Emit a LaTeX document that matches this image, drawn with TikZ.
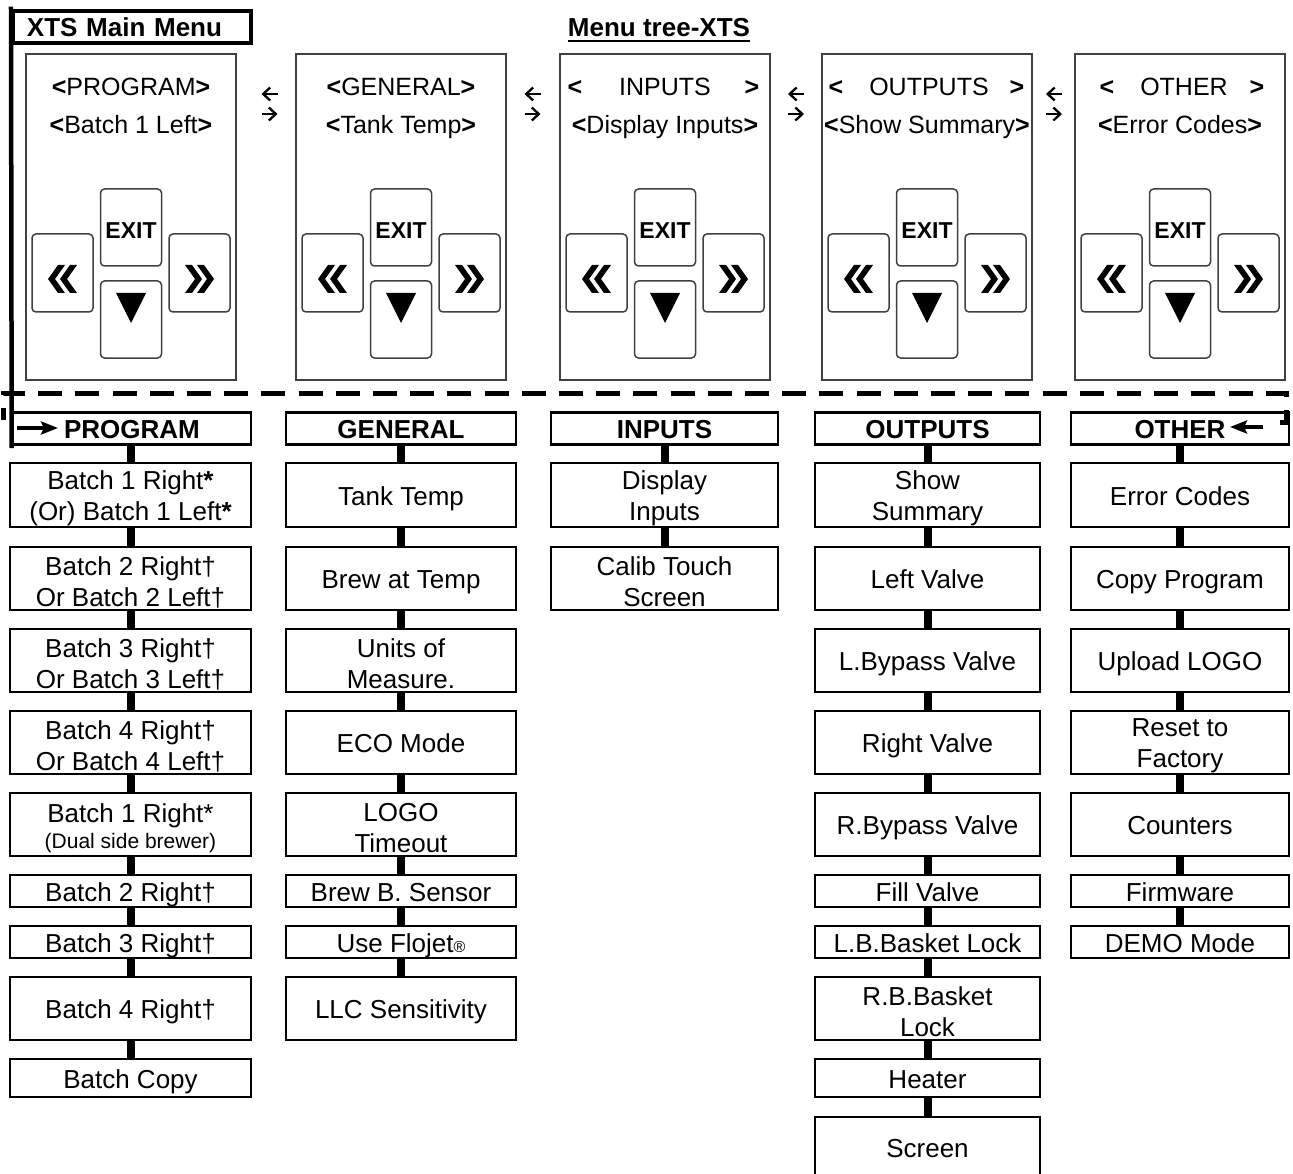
\documentclass[tikz,border=0pt]{standalone}
\usepackage{fontspec}
\setmainfont{Liberation Sans}
\usetikzlibrary{arrows.meta}
\tikzset{
  lbox/.style={draw, line width=2.6pt, inner sep=0pt},
  lbl/.style={inner sep=0pt, font=\fontsize{26}{31}\selectfont, text height=18.7pt, text depth=0pt, yshift=-1pt},
  lbltwo/.style={align=center, inner sep=0pt, font=\fontsize{26}{31}\selectfont, yshift=-3.5pt},
  hlbl/.style={align=center, inner sep=0pt, font=\bfseries\fontsize{26}{31}\selectfont, yshift=-1pt},
  tall/.style={minimum height=63pt},
  short/.style={minimum height=32pt},
  colP/.style={minimum width=241pt},
  colG/.style={minimum width=230pt},
  colI/.style={minimum width=227pt},
  colO/.style={minimum width=225pt},
  colT/.style={minimum width=218pt},
  conn/.style={line width=8pt},
  screen/.style={draw=black!75, line width=1.5pt, minimum width=210pt, minimum height=326pt, inner sep=0pt},
  btn/.style={draw=black!75, line width=1.5pt, rounded corners=4pt, minimum width=61pt, minimum height=77pt, inner sep=0pt},
  scrtxt/.style={inner sep=0pt, anchor=base, font=\fontsize{25}{30}\selectfont},
  nav/.style={line width=2.3pt, -{Straight Barb[length=7pt,width=13pt]}},
  wrapline/.style={line width=5pt, dash pattern=on 24pt off 13.2pt, dash phase=6pt, line join=miter},
  wraparrow/.style={line width=3.5pt, -{Stealth[length=17pt,width=13pt,inset=3pt]}},
}
% one-line menu box: [styles]{name}{x}{y}{text}
\newcommand\xb[5][]{\node[lbox,#1,label={[lbl]center:{#5}}] (#2) at (#3,#4) {};}
% two-line menu box
\newcommand\xbb[5][]{\node[lbox,#1,label={[lbltwo]center:{#5}}] (#2) at (#3,#4) {};}
% header box
\newcommand\xh[5][]{\node[lbox,short,#1,label={[hlbl]center:{#5}}] (#2) at (#3,#4) {};}
\newcommand\xtsphone[2]{%
  \node[screen] (#2) at (#1,217) {};
  \node[btn, minimum height=78pt] (#2L) at ({#1-68.5},273) {};
  \node[btn, text height=21.5pt, text depth=0pt, font=\bfseries\fontsize{23}{23}\selectfont] (#2E) at (#1,227.5) {EXIT};
  \node[btn] (#2D) at (#1,319.5) {};
  \node[btn, minimum height=78pt] (#2R) at ({#1+68.5},273) {};
  \fill ({#1-83},279) -- ++(10,-14) -- ++(7,0) -- ++(-10,14) -- ++(10,14) -- ++(-7,0) -- cycle;
  \fill ({#1-71},279) -- ++(10,-14) -- ++(7,0) -- ++(-10,14) -- ++(10,14) -- ++(-7,0) -- cycle;
  \fill ({#1+83},279) -- ++(-10,-14) -- ++(-7,0) -- ++(10,14) -- ++(-10,14) -- ++(7,0) -- cycle;
  \fill ({#1+71},279) -- ++(-10,-14) -- ++(-7,0) -- ++(10,14) -- ++(-10,14) -- ++(7,0) -- cycle;
  \fill ({#1-15},293) -- ({#1+15},293) -- (#1,323) -- cycle;
}
\begin{document}
\begin{tikzpicture}[x=1pt, y=-1pt]
\useasboundingbox (0,0) rectangle (1293,1174);

% ---------- titles ----------
\node[draw, line width=4pt, minimum width=238pt, minimum height=32pt, inner xsep=14pt, inner ysep=0pt,
      text width=210pt, align=left, font=\bfseries\fontsize{26}{30}\selectfont] (title) at (132,27) {XTS Main Menu};
\node[inner sep=0pt, anchor=base, font=\bfseries\fontsize{26}{30}\selectfont] (mt) at (659,37) {Menu tree-XTS};
\draw[line width=2.3pt] ([yshift=-4pt]mt.base west) -- ([yshift=-4pt]mt.base east);

% ---------- screens ----------
\xtsphone{131}{s1}
\xtsphone{401}{s2}
\xtsphone{665}{s3}
\xtsphone{927}{s4}
\xtsphone{1180}{s5}

\node[scrtxt] (s1a) at (131,96) {\textbf{<}PROGRAM\textbf{>}};
\node[scrtxt] (s1b) at (131,134) {\textbf{<}Batch 1 Left\textbf{>}};
\node[scrtxt] (s2a) at (401,96) {\textbf{<}GENERAL\textbf{>}};
\node[scrtxt] (s2b) at (401,134) {\textbf{<}Tank Temp\textbf{>}};
\node[scrtxt] (s3l) at (575,96) {\textbf{<}};
\node[scrtxt] (s3a) at (665,96) {INPUTS};
\node[scrtxt] (s3r) at (752,96) {\textbf{>}};
\node[scrtxt] (s3b) at (665,134) {\textbf{<}Display Inputs\textbf{>}};
\node[scrtxt] (s4l) at (836,96) {\textbf{<}};
\node[scrtxt] (s4a) at (929,96) {OUTPUTS};
\node[scrtxt] (s4r) at (1017,96) {\textbf{>}};
\node[scrtxt] (s4b) at (927,134) {\textbf{<}Show Summary\textbf{>}};
\node[scrtxt] (s5l) at (1107,96) {\textbf{<}};
\node[scrtxt] (s5a) at (1184,96) {OTHER};
\node[scrtxt] (s5r) at (1257,96) {\textbf{>}};
\node[scrtxt] (s5b) at (1180,134) {\textbf{<}Error Codes\textbf{>}};

% navigation arrows between screens
\foreach \x [count=\i] in {269.5,532.5,796,1054} {
  \coordinate (na\i) at ({\x+8},94);
  \coordinate (nb\i) at ({\x-8},94);
  \coordinate (nc\i) at ({\x-8},114);
  \coordinate (nd\i) at ({\x+8},114);
  \draw[nav] (na\i) -- (nb\i);
  \draw[nav] (nc\i) -- (nd\i);
}

% ---------- PROGRAM column ----------
\xh[minimum width=238pt]{pH}{132}{428.5}{PROGRAM}
\xbb[colP,minimum height=64pt]{p1}{130.5}{495}{Batch 1 Right\textbf{*}\\(Or) Batch 1 Left\textbf{*}}
\xbb[colP,tall]{p2}{130.5}{578.5}{Batch 2 Right†\\Or Batch 2 Left†}
\xbb[colP,tall]{p3}{130.5}{660.5}{Batch 3 Right†\\Or Batch 3 Left†}
\xbb[colP,tall]{p4}{130.5}{742.5}{Batch 4 Right†\\Or Batch 4 Left†}
\xbb[colP,tall]{p5}{130.5}{824.5}{Batch 1 Right*\\[-5pt]{\fontsize{21}{24}\selectfont (Dual side brewer)}}
\xb[colP,short]{p6}{130.5}{891}{Batch 2 Right†}
\xb[colP,short]{p7}{130.5}{942}{Batch 3 Right†}
\xb[colP,tall]{p8}{130.5}{1008.5}{Batch 4 Right†}
\xb[colP,minimum height=38pt]{p9}{130.5}{1078}{Batch Copy}

% ---------- GENERAL column ----------
\xh[colG]{gH}{401}{428.5}{GENERAL}
\xb[colG,minimum height=64pt]{g1}{401}{495}{Tank Temp}
\xb[colG,tall]{g2}{401}{578.5}{Brew at Temp}
\xbb[colG,tall]{g3}{401}{660.5}{Units of\\Measure.}
\xb[colG,tall]{g4}{401}{742.5}{ECO Mode}
\xbb[colG,tall]{g5}{401}{824.5}{LOGO\\Timeout}
\xb[colG,short]{g6}{401}{891}{Brew B. Sensor}
\xb[colG,short]{g7}{401}{942}{Use Flojet{\fontsize{16}{16}\selectfont ®}}
\xb[colG,tall]{g8}{401}{1008.5}{LLC Sensitivity}

% ---------- INPUTS column ----------
\xh[colI]{iH}{664.5}{428.5}{INPUTS}
\xbb[colI,minimum height=64pt]{i1}{664.5}{495}{Display\\Inputs}
\xbb[colI,tall]{i2}{664.5}{578.5}{Calib Touch\\Screen}

% ---------- OUTPUTS column ----------
\xh[colO]{oH}{927.5}{428.5}{OUTPUTS}
\xbb[colO,minimum height=64pt]{o1}{927.5}{495}{Show\\Summary}
\xb[colO,tall]{o2}{927.5}{578.5}{Left Valve}
\xb[colO,tall]{o3}{927.5}{660.5}{L.Bypass Valve}
\xb[colO,tall]{o4}{927.5}{742.5}{Right Valve}
\xb[colO,tall]{o5}{927.5}{824.5}{R.Bypass Valve}
\xb[colO,short]{o6}{927.5}{891}{Fill Valve}
\xb[colO,short]{o7}{927.5}{942}{L.B.Basket Lock}
\xbb[colO,tall]{o8}{927.5}{1008.5}{R.B.Basket\\Lock}
\xb[colO,minimum height=38pt]{o9}{927.5}{1078}{Heater}
\xb[colO,minimum height=60pt]{o10}{927.5}{1147}{Screen}

% ---------- OTHER column ----------
\xh[colT]{tH}{1180}{428.5}{OTHER}
\xb[colT,minimum height=64pt]{t1}{1180}{495}{Error Codes}
\xb[colT,tall]{t2}{1180}{578.5}{Copy Program}
\xb[colT,tall]{t3}{1180}{660.5}{Upload LOGO}
\xbb[colT,tall]{t4}{1180}{742.5}{Reset to\\Factory}
\xb[colT,tall]{t5}{1180}{824.5}{Counters}
\xb[colT,short]{t6}{1180}{891}{Firmware}
\xb[colT,short]{t7}{1180}{942}{DEMO Mode}

% ---------- connectors ----------
\foreach \a/\b in {pH/p1,p1/p2,p2/p3,p3/p4,p4/p5,p5/p6,p6/p7,p7/p8,p8/p9,
                   gH/g1,g1/g2,g2/g3,g3/g4,g4/g5,g5/g6,g6/g7,g7/g8,
                   iH/i1,i1/i2,
                   oH/o1,o1/o2,o2/o3,o3/o4,o4/o5,o5/o6,o6/o7,o7/o8,o8/o9,o9/o10,
                   tH/t1,t1/t2,t2/t3,t3/t4,t4/t5,t5/t6,t6/t7}
  \draw[conn] (\b.north |- \a.south) -- (\b.north);

% ---------- main menu frame line ----------
\draw[line width=4.5pt, line cap=rect] (title.north west) -- (pH.south west);

% ---------- wrap-around dashed line ----------
\coordinate (wr0) at (1280,422);
\coordinate (wr1) at (1286,422);
\coordinate (wr2) at (1286,393);
\coordinate (wl2) at (3,393);
\coordinate (wl1) at (3,420);
\draw[wrapline] (wr0) -- (wr1) -- (wr2) -- (wl2) -- (wl1);

\coordinate (pa0) at (17,428);
\coordinate (pa1) at (58,428);
\draw[wraparrow] (pa0) -- (pa1);
\coordinate (ta0) at (1263,427);
\coordinate (ta1) at (1230,427);
\draw[wraparrow] (ta0) -- (ta1);
\end{tikzpicture}
\end{document}
